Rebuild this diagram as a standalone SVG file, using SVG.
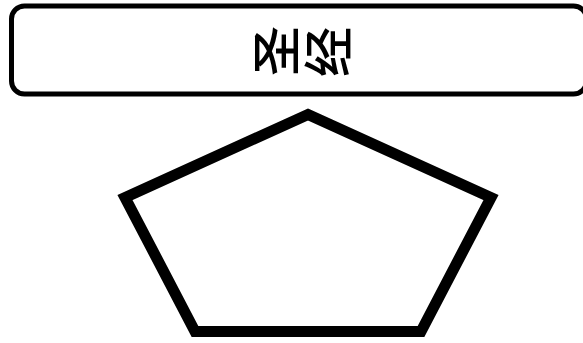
<svg xmlns="http://www.w3.org/2000/svg" width="583" height="343" viewBox="0 0 583 343">
<style>
.box{fill:#fff;stroke:#000;stroke-width:5}
.lbl{font-family:"Noto Sans CJK SC","Noto Sans CJK JP",sans-serif;font-size:50px;font-weight:500;fill:#000;text-anchor:middle;dominant-baseline:central}
.pent{fill:#fff;stroke:#000;stroke-width:11;stroke-linejoin:miter;stroke-miterlimit:10}
</style>
<rect width="583" height="343" fill="#fff"/>
<g id="title">
<rect class="box" x="11.5" y="6" width="575" height="88" rx="13" ry="13"/>
<text class="lbl" x="273" y="51" transform="rotate(-90 273 51)">圣</text>
<text class="lbl" x="325" y="52" transform="rotate(-90 325 52)">经</text>
</g>
<g id="pentagon">
<polygon class="pent" points="308,114.5 491,197.5 421,331.5 195,331.5 125,197.5"/>
</g>
<g id="connectors"></g>
</svg>
